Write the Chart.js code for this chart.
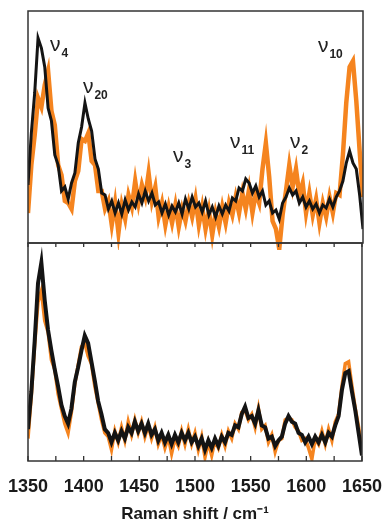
<!DOCTYPE html>
<html>
<head>
<meta charset="utf-8">
<script src="https://cdn.jsdelivr.net/npm/chart.js@4"></script>
<style>
  html, body { margin: 0; padding: 0; background: #fff; }
  #wrap { position: relative; width: 389px; height: 525px; }
  #topBox { position: absolute; left: 0; top: 0; width: 389px; height: 250px; }
  #botBox { position: absolute; left: 0; top: 230px; width: 389px; height: 295px; }
</style>
</head>
<body>
<div id="wrap">
  <div id="topBox"><canvas id="topPanel"></canvas></div>
  <div id="botBox"><canvas id="bottomPanel"></canvas></div>
</div>
<script>
// Raman shift grid (cm-1)
const shift = [
  1350,1353,1356,1359,1362,1365,1368,1371,1374,1377,
  1380,1383,1386,1389,1392,1395,1398,1401,1404,1407,
  1410,1413,1416,1419,1422,1425,1428,1431,1434,1437,
  1440,1443,1446,1449,1452,1455,1458,1461,1464,1467,
  1470,1473,1476,1479,1482,1485,1488,1491,1494,1497,
  1500,1503,1506,1509,1512,1515,1518,1521,1524,1527,
  1530,1533,1536,1539,1542,1545,1548,1551,1554,1557,
  1560,1563,1566,1569,1572,1575,1578,1581,1584,1587,
  1590,1593,1596,1599,1602,1605,1608,1611,1614,1617,
  1620,1623,1626,1629,1632,1635,1638,1641,1644,1647,
  1650
];

// upper panel, intensities (arb. units)
const topBlack = [
  58,110,150,205,195,176,135,122,88,78,
  52,56,44,60,70,100,116,140,124,112,
  84,74,50,48,34,42,30,40,29,43,
  33,41,36,49,40,52,42,50,38,41,
  30,39,28,37,31,40,29,44,34,46,
  36,40,31,42,28,36,26,37,29,38,
  32,45,42,55,52,64,60,50,57,46,
  52,38,42,30,33,24,40,46,55,48,
  52,40,46,36,42,34,39,30,38,35,
  44,36,46,52,62,80,92,80,74,48,
  14
];
const topOrange = [
  30,78,108,145,136,158,172,132,118,78,
  68,42,40,34,62,72,104,102,110,82,
  78,52,52,34,42,18,40,10,38,24,
  48,36,62,40,58,46,70,42,56,26,
  40,18,36,20,38,16,34,22,40,26,
  44,18,36,14,32,8,30,16,36,20,
  40,28,46,30,50,34,54,30,50,40,
  74,100,66,22,14,-6,28,52,78,56,
  74,48,60,30,50,28,44,20,40,26,
  46,30,50,48,88,140,176,182,142,92,
  46
];

// lower panel, intensities (arb. units)
const botBlack = [
  34,74,128,190,212,172,140,118,98,80,
  60,48,40,56,84,100,118,134,126,106,
  86,64,50,34,30,20,30,22,32,24,
  36,30,42,32,40,30,40,28,34,22,
  30,20,28,18,28,20,30,22,30,20,
  26,16,24,12,22,14,24,16,26,20,
  30,28,38,36,50,58,46,48,40,54,
  38,36,24,26,16,22,26,40,48,42,
  40,30,28,20,26,18,26,20,28,20,
  30,26,38,48,76,94,96,74,54,30,
  6
];
const botOrange = [
  24,70,124,170,182,150,138,108,98,72,
  56,40,30,52,82,102,122,126,112,104,
  80,62,44,30,26,12,32,20,36,22,
  42,28,44,30,42,26,38,24,36,18,
  28,14,26,8,24,16,32,18,34,18,
  30,12,26,4,20,6,22,14,28,16,
  32,24,40,34,52,54,44,50,36,56,
  34,38,20,28,10,22,24,44,46,44,
  36,32,22,24,14,2,24,18,32,18,
  34,22,42,50,80,104,106,80,56,36,
  10
];

// band assignments in the upper panel
const modeNames = ['4', '20', '3', '11', '2', '10'];
const modeShift = [1369.7, 1399.2, 1479.8, 1530.8, 1584.6, 1609.6];
const modeLevel = [192, 150, 81, 95, 95, 191];

const ORANGE = '#f5841f';
const BLACK = '#141414';
const FONT = '"Liberation Sans", Arial, sans-serif';

function pts(ys) {
  return shift.map((x, i) => ({ x: x, y: ys[i] }));
}

// frame + inward tick marks
const framePlugin = {
  id: 'frame',
  afterDraw(chart, args, opts) {
    const ctx = chart.ctx, a = chart.chartArea, x = chart.scales.x;
    ctx.save();
    ctx.strokeStyle = '#333';
    ctx.lineWidth = 1.5;
    ctx.strokeRect(a.left, a.top, a.right - a.left, a.bottom - a.top);
    if (opts.ticks) {
      ctx.lineWidth = 1.3;
      x.ticks.forEach(t => {
        const px = x.getPixelForValue(t.value);
        ctx.beginPath();
        ctx.moveTo(px, a.bottom);
        ctx.lineTo(px, a.bottom - 5);
        ctx.moveTo(px, a.top);
        ctx.lineTo(px, a.top + 4);
        ctx.stroke();
      });
    }
    ctx.restore();
  }
};

// nu labels
const modePlugin = {
  id: 'modes',
  afterDatasetsDraw(chart, args, opts) {
    if (!opts.show) return;
    const ctx = chart.ctx, x = chart.scales.x, y = chart.scales.y;
    ctx.save();
    ctx.fillStyle = '#222';
    ctx.textBaseline = 'alphabetic';
    ctx.textAlign = 'left';
    modeNames.forEach((n, i) => {
      const px = x.getPixelForValue(modeShift[i]);
      const py = y.getPixelForValue(modeLevel[i]);
      ctx.font = '21px ' + FONT;
      ctx.fillText('ν', px, py);
      const w = ctx.measureText('ν').width;
      ctx.font = 'bold 12px ' + FONT;
      ctx.fillText(n, px + w + 1, py + 6);
    });
    ctx.restore();
  }
};

Chart.register(framePlugin, modePlugin);

// === upper panel ===
new Chart(document.getElementById('topPanel'), {
  type: 'line',
  data: {
    datasets: [{
      data: pts(topBlack),
      borderColor: BLACK,
      borderWidth: 3,
      pointRadius: 0,
      tension: 0,
      order: 0
    }, {
      data: pts(topOrange),
      borderColor: ORANGE,
      borderWidth: 4.5,
      pointRadius: 0,
      tension: 0,
      order: 1,
      clip: { left: 0, top: 0, right: 0, bottom: false }
    }]
  },
  options: {
    responsive: true,
    maintainAspectRatio: false,
    animation: false,
    layout: { padding: { left: 28, right: 26, top: 11, bottom: 7 } },
    plugins: {
      legend: { display: false },
      tooltip: { enabled: false },
      frame: { ticks: false },
      modes: { show: true }
    },
    scales: {
      x: { type: 'linear', min: 1350, max: 1650, display: false },
      y: { min: 0, max: 232, display: false }
    }
  }
});

// === lower panel ===
new Chart(document.getElementById('bottomPanel'), {
  type: 'line',
  data: {
    datasets: [{
      data: pts(botBlack),
      borderColor: BLACK,
      borderWidth: 4,
      pointRadius: 0,
      tension: 0,
      order: 0
    }, {
      data: pts(botOrange),
      borderColor: ORANGE,
      borderWidth: 3.5,
      pointRadius: 0,
      tension: 0,
      order: 1
    }]
  },
  options: {
    responsive: true,
    maintainAspectRatio: false,
    animation: false,
    layout: { padding: { left: 28, right: 26, top: 13, bottom: 0 } },
    plugins: {
      legend: { display: false },
      tooltip: { enabled: false },
      frame: { ticks: true },
      modes: { show: false }
    },
    scales: {
      x: {
        type: 'linear', min: 1350, max: 1650,
        grid: { display: false },
        border: { display: false },
        ticks: {
          stepSize: 25, autoSkip: false, maxRotation: 0, padding: 7,
          color: '#1a1a1a',
          font: { family: FONT, size: 18, weight: 'bold' },
          callback: v => (v % 50 === 0 ? v : '')
        },
        title: {
          display: true,
          text: 'Raman shift / cm⁻¹',
          color: '#1a1a1a',
          padding: 0,
          font: { family: FONT, size: 17, weight: 'bold' }
        }
      },
      y: { min: 0, max: 233, display: false }
    }
  }
});
</script>
</body>
</html>
